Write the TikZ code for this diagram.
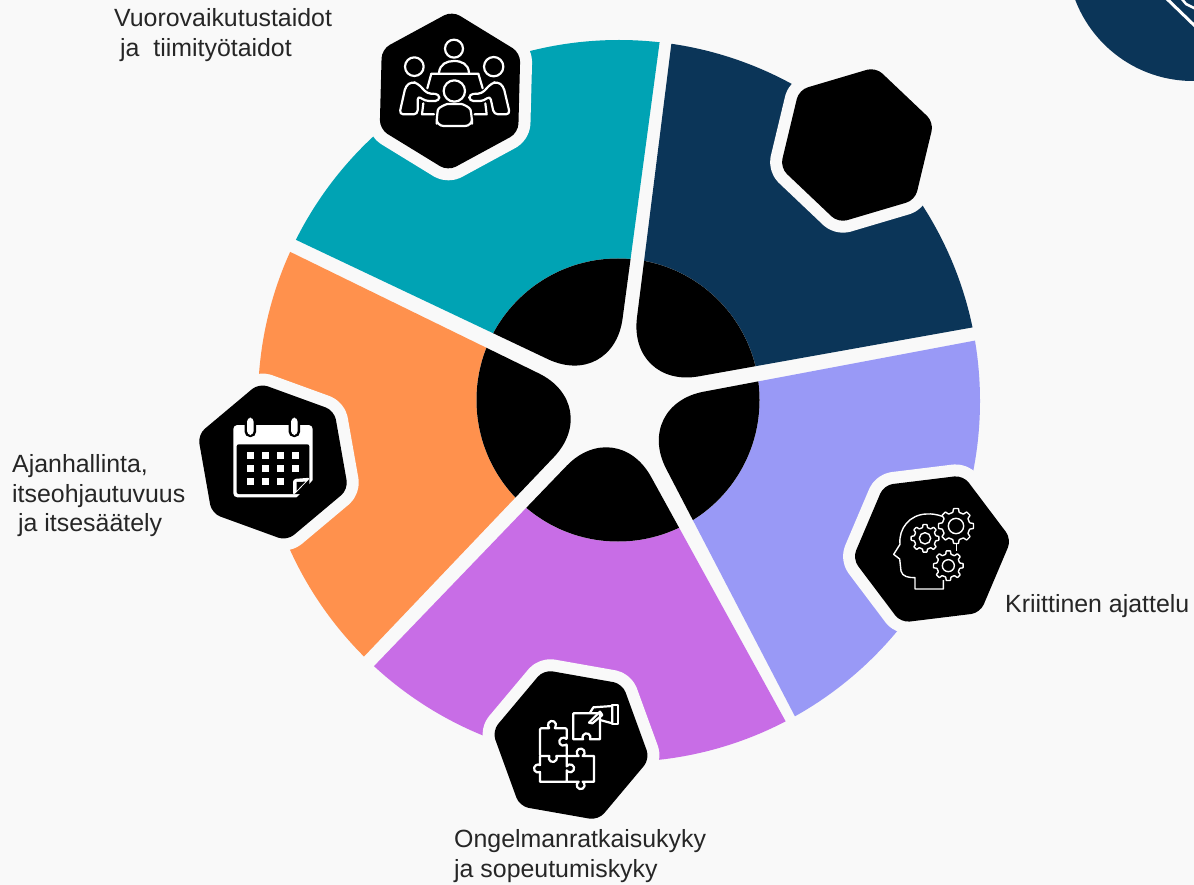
\documentclass[tikz,border=0pt]{standalone}
\usepackage{fontspec}
\setmainfont{Liberation Sans}
\usetikzlibrary{shapes.geometric}
\definecolor{pagec}{HTML}{F9F9F9}
\definecolor{tealc}{HTML}{00A3B4}
\definecolor{navyc}{HTML}{0B3558}
\definecolor{periwinklec}{HTML}{9999F6}
\definecolor{purplec}{HTML}{C86DE6}
\definecolor{orangec}{HTML}{FF914D}
\definecolor{labelc}{HTML}{262626}
\begin{document}
\begin{tikzpicture}[
    x=1pt, y=-1pt,
    badge/.style={regular polygon, regular polygon sides=6, minimum size=160pt, inner sep=0pt, outer sep=0pt,
        rounded corners=9pt, fill=black, preaction={draw=pagec, line width=24pt, line join=round}},
    txtlabel/.style={font=\fontsize{24.9}{29.5}\selectfont, align=left, text=labelc, inner sep=0pt, anchor=west},
    iconline/.style={draw=white, line width=2.2pt, line join=round, line cap=round},
    thinline/.style={draw=white, line width=1.4pt, line join=round}
]
\useasboundingbox (0,0) rectangle (1194,885);
\fill[pagec] (0,0) rectangle (1194,885);

% Corner circle
\begin{scope}
    \clip (0,0) rectangle (1194,885);
    \fill[navyc] (1193,-45) circle[radius=126];
    \draw[white, line width=3pt] (1166,-2) -- (1196,27);
    \draw[white, line width=2.5pt] (1181,-2) -- (1186,4) -- (1196,9);
\end{scope}

% Coloured sectors
\foreach \wcol/\ax/\ay/\bx/\by/\cx/\cy/\dx/\dy in {
    tealc/233/210/613/390/669/-28/300/-100,
    navyc/680/-25/628/389/1042/315/1100/-100,
    periwinklec/1047/327/633/405/827/778/1100/900,
    purplec/819/782/616.5/414/327/715/600/1000,
    orangec/314/709/603.5/405/227/221/0/450} {
    \begin{scope}
        \clip (619,401) circle[radius=361];
        \fill[\wcol] (\ax,\ay) -- (\bx,\by) -- (\cx,\cy) -- (\dx,\dy) -- cycle;
    \end{scope}
}
\fill[pagec] (618,400) circle[radius=141.5];

% Black petals
\foreach \ax/\ay/\bx/\by/\cx/\cy/\dx/\dy in {
    233/210/613/390/669/-28/300/-100,
    680/-25/628/389/1042/315/1100/-100,
    1047/327/633/405/827/778/1100/900,
    819/782/616.5/414/327/715/600/1000,
    314/709/603.5/405/227/221/0/450} {
    \begin{scope}
        \clip (618,400) circle[radius=141.5];
        \fill[black, rounded corners=72pt] (\ax,\ay) -- (\bx,\by) -- (\cx,\cy) -- (\dx,\dy) -- cycle;
    \end{scope}
}

% Hexagons
\node[badge, shape border rotate=28.5] (hexTeam) at (450,91) {};
\node[badge, shape border rotate=16.5] (hexNavy) at (857,145) {};
\node[badge, shape border rotate=7] (hexHead) at (932,549) {};
\node[badge, shape border rotate=50] (hexPuzzle) at (571,745) {};
\node[badge, shape border rotate=40] (hexCalendar) at (273,462) {};

% Team icon
\begin{scope}[shift={(370,0)}, scale=1/3]
    \foreach \cx/\cy/\cr in {252/146/27, 133/200/28, 371/200/29, 253/273/32}
        \draw[iconline] (\cx,\cy) circle[radius=\cr];
    \draw[iconline] (207,218) .. controls (210,192) and (230,183) .. (252,183) .. controls (275,183) and (295,192) .. (297,218);
    \draw[iconline] (172,265) -- (184,221) -- (325,221) -- (338,265);
    \draw[iconline, rounded corners=4pt] (88,343) -- (107,258) -- (125,245) -- (143,250) -- (172,281) -- (208,282) -- (208,303) -- (165,303) -- (143,287) -- (143,343) -- cycle;
    \draw[iconline, rounded corners=4pt] (420,343) -- (400,258) -- (382,245) -- (364,250) -- (335,281) -- (298,282) -- (298,303) -- (342,303) -- (360,287) -- (372,343) -- cycle;
    \draw[iconline] (160,310) -- (156,343) -- (192,343);
    \draw[iconline] (346,310) -- (350,343) -- (314,343);
    \draw[iconline, rounded corners=7pt] (200,378) -- (200,350) .. controls (205,322) and (230,312) .. (253,312) .. controls (278,312) and (300,322) .. (306,350) -- (306,378) -- cycle;
\end{scope}

% Calendar icon
\begin{scope}[shift={(190,375)}, scale=1/3]
    \fill[white, rounded corners=4pt] (130,150) rectangle (368,367);
    \fill[black, rounded corners=2pt] (140,208) rectangle (358,357);
    \foreach \rx in {181,313} {
        \fill[black, rounded corners=5pt] (\rx-17,122) rectangle (\rx+17,186);
        \fill[white, rounded corners=4pt] (\rx-10,128) rectangle (\rx+10,180);
    }
    \foreach \sx in {181,226,271,316}
        \foreach \sy in {241,280}
            \fill[white] (\sx-10.5,\sy-10.5) rectangle (\sx+10.5,\sy+10.5);
    \foreach \sx in {181,226,271}
        \fill[white] (\sx-10.5,319-10.5) rectangle (\sx+10.5,319+10.5);
    \fill[black] (372,312) -- (372,372) -- (316,372) -- cycle;
    \fill[white, rounded corners=3pt] (309,362) -- (309,312) -- (362,308) -- cycle;
    \fill[black] (320,347) -- (320,321) -- (346,320) -- cycle;
\end{scope}

% Head icon
\begin{scope}[shift={(845,465)}, scale=1/3]
    \draw[thinline] (295,345) -- (295,372) -- (210,372) -- (210,338) .. controls (190,338) and (172,335) .. (168,318)
        -- (164,282) -- (146,268) -- (165,238) .. controls (160,190) and (195,148) .. (245,147) .. controls (260,146) and (275,148) .. (292,154);
    \draw[thinline] (335,234) -- (335,258);
    \foreach \gx/\gy/\gi/\go/\gh in {240/220/33/42/17, 333/183/42/53/23, 310/302/35/45/18} {
        \begin{scope}[shift={(\gx,\gy)}]
            \draw[thinline, fill=black, rounded corners=0.5pt] (-13:\gi)
                \foreach \i in {0,...,7} { -- (\i*45-13:\gi) -- (\i*45-8:\go) -- (\i*45+8:\go) -- (\i*45+13:\gi) } -- cycle;
            \draw[thinline] (0,0) circle[radius=\gh];
        \end{scope}
    }
\end{scope}

% Puzzle icon
\begin{scope}[shift={(485,660)}, scale=1/3]
    \draw[iconline, rounded corners=1pt] (165,285) -- (165,205) -- (195,205) arc[start angle=120, end angle=420, radius=12] -- (245,205) -- (245,239)
        arc[start angle=-30, end angle=-330, radius=12] -- (245,285);
    \draw[iconline] (165,288) -- (193,288) arc[start angle=210, end angle=-30, radius=12] -- (245,288) -- (245,319)
        arc[start angle=210, end angle=510, radius=12] -- (245,365) -- (165,365) -- (165,336)
        arc[start angle=60, end angle=300, radius=12] -- cycle;
    \draw[iconline] (245,365) -- (281,365) arc[start angle=240, end angle=-60, radius=12] -- (327,365) -- (327,288) -- (293,288)
        arc[start angle=60, end angle=-240, radius=12] -- (245,288);
    \draw[iconline] (265,238) -- (265,160) -- (345,160) -- (345,238) -- (315,238) arc[start angle=30, end angle=-210, radius=12] -- cycle;
    \draw[iconline] (315,158) -- (325,142) -- (382,138) -- (382,190) -- (345,180);
    \draw[iconline] (382,135) rectangle (400,192);
    \draw[iconline] (312,188) -- (345,155) -- (352,165) -- (322,190) -- cycle;
\end{scope}

% Labels
\node[txtlabel] (lblTeam) at (114,35) {Vuorovaikutustaidot\\\hspace*{6pt}ja\ \ tiimityötaidot};
\node[txtlabel] (lblCalendar) at (12,496) {Ajanhallinta,\\itseohjautuvuus\\\hspace*{6pt}ja itsesäätely};
\node[txtlabel] (lblHead) at (1005,606) {Kriittinen ajattelu};
\node[txtlabel] (lblPuzzle) at (454,856) {Ongelmanratkaisukyky\\ja sopeutumiskyky};

\end{tikzpicture}
\end{document}
